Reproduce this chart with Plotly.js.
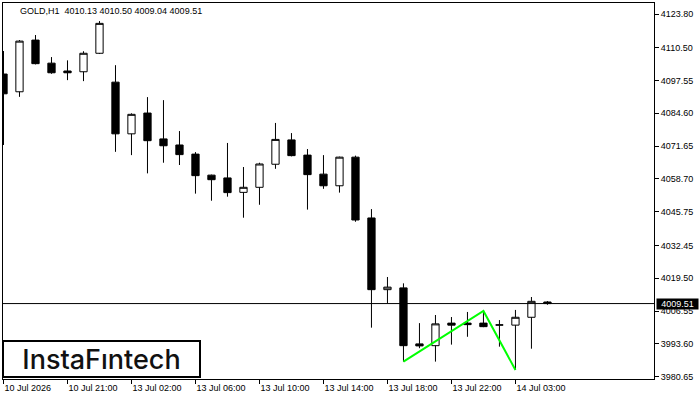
<!DOCTYPE html>
<html>
<head>
<meta charset="utf-8">
<script src="https://cdn.plot.ly/plotly-3.0.1.min.js"></script>
<style>html,body{margin:0;padding:0;background:#fff;}#chart{width:700px;height:400px;}</style>
</head>
<body>
<div id="chart"></div>
<script>
const times = ['10 Jul 17:00','10 Jul 18:00','10 Jul 19:00','10 Jul 20:00','10 Jul 21:00','10 Jul 22:00','10 Jul 23:00',
  '13 Jul 01:00','13 Jul 02:00','13 Jul 03:00','13 Jul 04:00','13 Jul 05:00','13 Jul 06:00','13 Jul 07:00','13 Jul 08:00',
  '13 Jul 09:00','13 Jul 10:00','13 Jul 11:00','13 Jul 12:00','13 Jul 13:00','13 Jul 14:00','13 Jul 15:00','13 Jul 16:00',
  '13 Jul 17:00','13 Jul 18:00','13 Jul 19:00','13 Jul 20:00','13 Jul 21:00','13 Jul 22:00','13 Jul 23:00',
  '14 Jul 01:00','14 Jul 02:00','14 Jul 03:00','14 Jul 04:00','14 Jul 05:00'];
const opens  = [4100.1,4093.1,4113.5,4104.4,4101.3,4101.0,4108.3,4096.9,4076.5,4084.7,4074.5,4072.1,4068.5,4060.2,4059.1,4053.4,4055.4,4064.5,4074.1,4068.1,4060.6,4056.0,4067.3,4043.3,4015.0,4015.7,3993.6,3992.9,4001.8,4001.8,4001.8,4001.0,4001.0,4004.1,4010.13];
const highs  = [4109.2,4113.5,4115.5,4106.8,4105.5,4109.1,4121.0,4103.6,4084.6,4091.0,4089.8,4077.6,4069.3,4060.4,4072.9,4063.4,4065.1,4080.8,4076.8,4070.5,4068.1,4067.5,4067.9,4046.8,4020.0,4017.5,4001.8,4005.0,4004.2,4006.2,4006.6,4003.0,4007.0,4012.1,4010.50];
const lows   = [4072.1,4091.1,4103.9,4100.2,4097.7,4097.3,4108.0,4069.4,4068.1,4060.9,4065.1,4064.2,4052.9,4050.1,4051.7,4043.4,4048.5,4062.7,4067.6,4046.6,4054.8,4053.3,4041.8,4000.0,4009.6,3986.6,3991.9,3986.6,3993.3,3996.4,4000.2,3992.5,3983.3,3991.7,4009.04];
const closes = [4092.3,4113.1,4104.2,4100.6,4100.6,4108.3,4120.1,4076.5,4084.2,4073.8,4071.8,4068.3,4060.0,4058.4,4053.3,4055.4,4064.6,4074.3,4067.9,4060.4,4056.0,4067.3,4042.5,4015.0,4016.0,3992.9,3992.8,4001.5,4001.0,4001.2,4000.4,4001.1,4004.1,4010.4,4009.51];

const xTickVals = ['10 Jul 17:00','10 Jul 21:00','13 Jul 02:00','13 Jul 06:00','13 Jul 10:00','13 Jul 14:00','13 Jul 18:00','13 Jul 22:00','14 Jul 03:00'];
const xTickText = ['10 Jul 2026','10 Jul 21:00','13 Jul 02:00','13 Jul 06:00','13 Jul 10:00','13 Jul 14:00','13 Jul 18:00','13 Jul 22:00','14 Jul 03:00'];
const yTickVals = [4123.80,4110.50,4097.55,4084.60,4071.65,4058.70,4045.75,4032.45,4019.50,4006.55,3993.60,3980.65];

const symbol = 'GOLD,H1';
const lastPrice = 4009.51;
// pattern pivots: [candle index, use low or high]
const patternIdx = [25, 30, 32];
const patternKind = ['low', 'high', 'low'];

const patX = patternIdx.map(i => times[i]);
const patY = patternIdx.map((i, k) => patternKind[k] === 'low' ? lows[i] : highs[i]);
const n = times.length;
const last = n - 1;
const header = symbol + '  ' + [opens[last], highs[last], lows[last], closes[last]].map(v => v.toFixed(2)).join(' ');

const font = {family: 'Liberation Sans, Arial, sans-serif', size: 9, color: '#000'};

const traces = [
  {
    type: 'candlestick', x: times, open: opens, high: highs, low: lows, close: closes,
    increasing: {line: {color: '#000', width: 1}, fillcolor: '#ffffff'},
    decreasing: {line: {color: '#000', width: 1}, fillcolor: '#000000'},
    whiskerwidth: 0, hoverinfo: 'skip', showlegend: false
  },
  {
    type: 'scatter', mode: 'lines', x: patX, y: patY,
    line: {color: '#00ff00', width: 2}, hoverinfo: 'skip', showlegend: false
  }
];

const layout = {
  width: 700, height: 400,
  margin: {l: 3, r: 46, t: 3, b: 21},
  paper_bgcolor: '#fff', plot_bgcolor: '#fff',
  font: font,
  boxgap: 0.35,
  showlegend: false,
  xaxis: {
    type: 'category', range: [-0.031, 40.66], fixedrange: true,
    rangeslider: {visible: false},
    showgrid: false, zeroline: false,
    showline: true, linecolor: '#000', linewidth: 1, mirror: true,
    ticks: 'outside', ticklen: 4, tickcolor: '#000', tickwidth: 1,
    tickmode: 'array', tickvals: xTickVals, ticktext: xTickText,
    ticklabelposition: 'outside right',
    tickfont: font
  },
  yaxis: {
    side: 'right', range: [3979.74, 4128.14], fixedrange: true,
    showgrid: false, zeroline: false,
    showline: true, linecolor: '#000', linewidth: 1, mirror: true,
    ticks: 'outside', ticklen: 4, tickcolor: '#000', tickwidth: 1,
    tickmode: 'array', tickvals: yTickVals, ticktext: yTickVals.map(v => v.toFixed(2)),
    tickfont: font
  },
  shapes: [
    {type: 'line', xref: 'paper', x0: 0, x1: 1, yref: 'y', y0: lastPrice, y1: lastPrice,
     line: {color: '#000', width: 1}}
  ],
  annotations: [
    {xref: 'paper', yref: 'paper', x: 0, y: 1, xanchor: 'left', yanchor: 'middle',
     xshift: 15, yshift: -8, text: header, showarrow: false, font: font},
    {xref: 'paper', yref: 'y', x: 1, y: lastPrice, xanchor: 'left', yanchor: 'middle', xshift: 2,
     text: lastPrice.toFixed(2), showarrow: false, bgcolor: '#000', borderpad: 0, width: 41, height: 10,
     font: {family: 'Liberation Sans, Arial, sans-serif', size: 9, color: '#fff'}},
    {xref: 'paper', yref: 'paper', x: 0, y: 0, xanchor: 'left', yanchor: 'bottom', xshift: -1, yshift: 1,
     text: 'InstaF\u0131ntech', showarrow: false, bgcolor: '#fff', bordercolor: '#000', borderwidth: 2,
     borderpad: 0, width: 195, height: 34,
     font: {family: 'Inter, Lato, sans-serif', size: 27, weight: 500, color: '#111'}}
  ]
};

Plotly.newPlot('chart', traces, layout, {displayModeBar: false, staticPlot: true});
</script>
</body>
</html>
